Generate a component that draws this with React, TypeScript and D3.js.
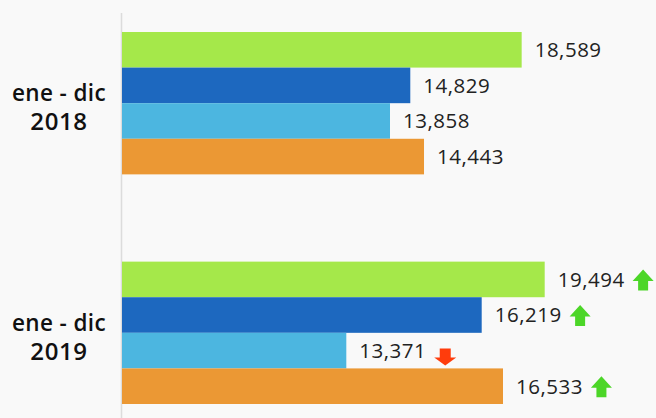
import { useEffect, useRef } from 'react'
import * as d3 from 'd3'

const periods = ['ene - dic', 'ene - dic']
const years = ['2018', '2019']
const seriesKeys = ['s1', 's2', 's3', 's4']
const seriesColors = ['#a5e84a', '#1d68bf', '#4cb6e0', '#eb9834']

// numbers printed next to each bar
const labels2018 = [18589, 14829, 13858, 14443]
const labels2019 = [19494, 16219, 13371, 16533]

// bar lengths as drawn (they do not follow the printed numbers exactly)
const bars2018 = [18589, 13409, 12465, 14047]
const bars2019 = [19660, 16730, 10433, 17721]

function App() {
    const ref = useRef<SVGSVGElement>(null)

    useEffect(() => {
        const width = 656
        const height = 418
        const left = 122
        const font = '"Open Sans", Lato, sans-serif'

        const svg = d3.select(ref.current)
        svg.selectAll('*').remove()

        svg.append('rect')
            .attr('width', width)
            .attr('height', height)
            .attr('fill', '#f9f9f9')

        const xScale = d3
            .scaleLinear()
            .domain([0, 20000])
            .range([left, left + 430])

        const yGroup = d3
            .scaleBand()
            .domain(years)
            .range([32, 404])
            .paddingInner(0.38)
            .paddingOuter(0)

        const ySeries = d3
            .scaleBand()
            .domain(seriesKeys)
            .range([0, yGroup.bandwidth()])
            .padding(0)

        // axis line
        svg.append('line')
            .attr('x1', 121.5)
            .attr('x2', 121.5)
            .attr('y1', 13)
            .attr('y2', height)
            .attr('stroke', '#dcdcdc')
            .attr('stroke-width', 1.5)

        const groups = [
            { year: years[0], period: periods[0], bars: bars2018, labels: labels2018, prev: null as number[] | null },
            { year: years[1], period: periods[1], bars: bars2019, labels: labels2019, prev: labels2018 }
        ]

        groups.forEach(grp => {
            const g0 = yGroup(grp.year) as number
            const center = g0 + yGroup.bandwidth() / 2

            const cat = svg.append('text')
                .attr('text-anchor', 'middle')
                .attr('font-family', font)
                .attr('font-weight', 600)
                .attr('fill', '#111')
            cat.append('tspan')
                .attr('x', 59)
                .attr('y', center - 2)
                .attr('font-size', 22.5)
                .attr('letter-spacing', 0.4)
                .text(grp.period)
            cat.append('tspan')
                .attr('x', 59)
                .attr('y', center + 27)
                .attr('font-size', 24)
                .attr('letter-spacing', 0.6)
                .text(grp.year)

            seriesKeys.forEach((key, i) => {
                const y = g0 + (ySeries(key) as number)
                const h = ySeries.bandwidth()
                const xEnd = xScale(grp.bars[i])

                svg.append('rect')
                    .attr('x', xScale(0))
                    .attr('y', y)
                    .attr('width', xEnd - xScale(0))
                    .attr('height', h)
                    .attr('fill', seriesColors[i])

                const label = svg.append('text')
                    .attr('x', xEnd + 13)
                    .attr('y', y + h / 2)
                    .attr('dy', '0.36em')
                    .attr('font-family', font)
                    .attr('font-size', 20.5)
                    .attr('letter-spacing', 0.5)
                    .attr('fill', '#222')
                    .text(d3.format(',')(grp.labels[i]))

                if (grp.prev) {
                    const up = grp.labels[i] >= grp.prev[i]
                    const textEnd = xEnd + 13 + (label.node() as SVGTextElement).getComputedTextLength()
                    const ax = textEnd + 8
                    const cy = y + h / 2
                    const p = up
                        ? `M${ax + 10.5},${cy - 10} L${ax + 21},${cy + 1.5} L${ax + 15.5},${cy + 1.5} L${ax + 15.5},${cy + 11} L${ax + 5.5},${cy + 11} L${ax + 5.5},${cy + 1.5} L${ax},${cy + 1.5} Z`
                        : `M${ax + 5.5},${cy - 2} L${ax + 16.5},${cy - 2} L${ax + 16.5},${cy + 7} L${ax + 22},${cy + 7} L${ax + 11},${cy + 15} L${ax},${cy + 7} L${ax + 5.5},${cy + 7} Z`
                    svg.append('path')
                        .attr('d', p)
                        .attr('fill', up ? '#4cd628' : '#ff3c0c')
                }
            })
        })
    })

    return (
        <svg
            ref={ref}
            width={656}
            height={418}
            style={{ position: 'absolute', left: 0, top: 0 }}
        />
    )
}

export default App
